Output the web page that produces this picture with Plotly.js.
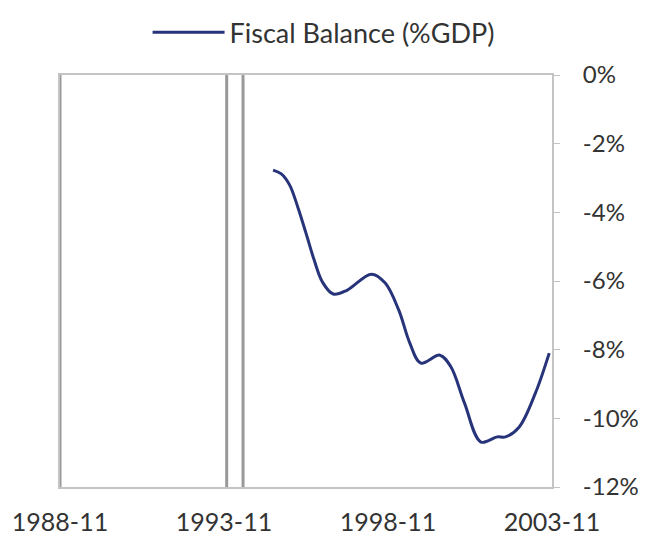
<!DOCTYPE html>
<html>
<head>
<meta charset="utf-8">
<script src="https://cdn.plot.ly/plotly-3.0.1.min.js"></script>
<style>html,body{margin:0;padding:0;background:#fff;}#chart{width:653px;height:550px;}</style>
</head>
<body>
<div id="chart"></div>
<script>
// Data
var dates = ['1995-05-01','1995-08-01','1995-11-01','1996-02-01','1996-05-01','1996-08-01','1996-11-01','1997-03-01','1997-08-01','1998-05-01','1998-10-01','1999-03-01','1999-07-01','1999-11-01','2000-06-01','2000-10-01','2001-03-01','2001-09-01','2002-03-01','2002-06-01','2002-11-01','2003-05-01','2003-10-01'];
var fiscalBalance = [-2.77,-2.88,-3.2,-3.85,-4.6,-5.39,-6.03,-6.38,-6.27,-5.8,-6.06,-6.85,-7.8,-8.39,-8.16,-8.5,-9.55,-10.69,-10.54,-10.54,-10.25,-9.26,-8.1];
var markerDates = ['1988-11-01','1993-12-01','1994-06-01'];
var tickDates = ['1988-11-01','1993-11-01','1998-11-01','2003-11-01'];
var tickLabels = ['1988-11','1993-11','1998-11','2003-11'];
var yTicks = [0,-2,-4,-6,-8,-10,-12];
var yTickLabels = ['0%','-2%','-4%','-6%','-8%','-10%','-12%'];

var font = 'Lato, "Noto Sans", sans-serif';

var trace = {
  x: dates, y: fiscalBalance, type: 'scatter', mode: 'lines',
  name: 'Fiscal Balance (%GDP)',
  line: {color: '#27347a', width: 3, shape: 'spline', smoothing: 1.0}
};

var shapes = markerDates.map(function(d){
  return {type:'line', xref:'x', yref:'paper', x0:d, x1:d, y0:0, y1:1,
          line:{color:'#999', width:3}};
});

var layout = {
  width: 653, height: 550,
  margin: {l: 60, r: 101, t: 75, b: 63, autoexpand: false},
  paper_bgcolor: '#fff', plot_bgcolor: '#fff',
  font: {family: font, size: 25, color: '#333'},
  showlegend: true,
  legend: {orientation: 'h', xref: 'container', yref: 'container', x: 0.226, y: 0.985,
           xanchor: 'left', yanchor: 'top',
           itemwidth: 72, font: {family: font, size: 27, color: '#333'}, bgcolor: 'rgba(0,0,0,0)'},
  xaxis: {
    type: 'date', range: ['1988-11-01','2003-11-01'],
    tickmode: 'array', tickvals: tickDates, ticktext: tickLabels,
    showgrid: false, zeroline: false, showline: true, mirror: true,
    linecolor: '#c4c4c4', linewidth: 2, ticks: '', ticklabelstandoff: 12,
    tickfont: {family: font, size: 25, color: '#333'}
  },
  yaxis: {
    side: 'right', range: [-12, 0],
    tickmode: 'array', tickvals: yTicks, ticktext: yTickLabels,
    showgrid: false, zeroline: false, showline: true, mirror: true,
    linecolor: '#c4c4c4', linewidth: 2, ticks: 'outside', ticklen: 6, tickcolor: '#c4c4c4',
    ticklabelstandoff: 18,
    tickfont: {family: font, size: 24, color: '#333'}
  },
  shapes: shapes
};

Plotly.newPlot('chart', [trace], layout, {displayModeBar: false, staticPlot: true});
</script>
</body>
</html>
